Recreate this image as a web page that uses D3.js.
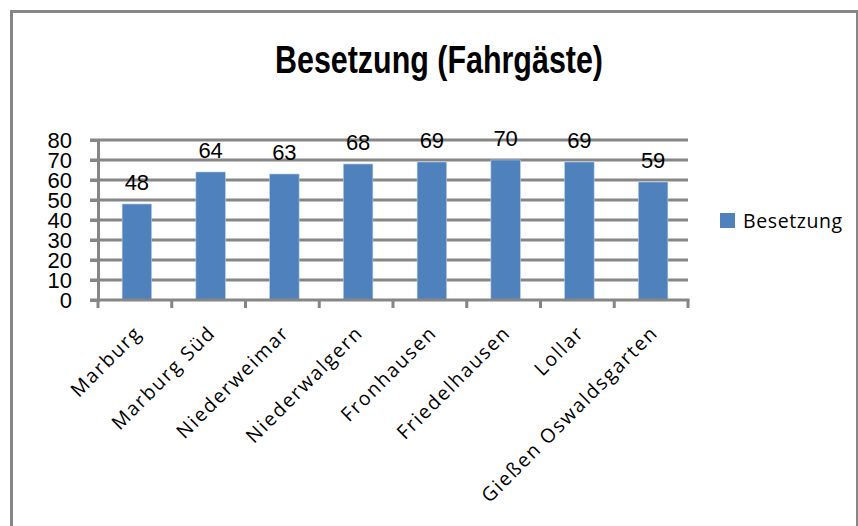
<!DOCTYPE html>
<html>
<head>
<meta charset="utf-8">
<script src="https://cdn.jsdelivr.net/npm/d3@7"></script>
<style>
  body { margin: 0; background: #fff; }
  svg { display: block; }
</style>
</head>
<body>
<script>
var categories = ["Marburg", "Marburg Süd", "Niederweimar", "Niederwalgern", "Fronhausen", "Friedelhausen", "Lollar", "Gießen Oswaldsgarten"];
var besetzung = [48, 64, 63, 68, 69, 70, 69, 59];
var yTicks = [0, 10, 20, 30, 40, 50, 60, 70, 80];
var seriesName = "Besetzung";
var chartTitle = "Besetzung (Fahrgäste)";

var svg = d3.select("body").append("svg").attr("width", 858).attr("height", 526);

// outer frame
svg.append("rect")
    .attr("x", 11.5).attr("y", 11.5)
    .attr("width", 846).attr("height", 530)
    .attr("fill", "#fff")
    .attr("stroke", "#868686")
    .attr("stroke-width", 3);

svg.append("text")
    .attr("x", 439).attr("y", 73)
    .attr("text-anchor", "middle")
    .attr("font-family", "'Liberation Sans', Arial, sans-serif")
    .attr("font-weight", "bold")
    .attr("font-size", 38)
    .attr("textLength", 328)
    .attr("lengthAdjust", "spacingAndGlyphs")
    .attr("fill", "#000")
    .text(chartTitle);

var x = d3.scaleBand().domain(categories).range([98, 688]).paddingInner(0.6).paddingOuter(0.3);
var y = d3.scaleLinear().domain([0, 80]).range([300, 140]);

// gridlines
svg.append("g").selectAll("line")
    .data(yTicks.filter(function (d) { return d > 0; }))
    .enter()
    .append("line")
    .attr("x1", 90).attr("x2", 688)
    .attr("y1", function (d) { return y(d); })
    .attr("y2", function (d) { return y(d); })
    .attr("stroke", "#868686")
    .attr("stroke-width", 3);

// y axis
var yAxis = svg.append("g")
    .attr("transform", "translate(98,0)")
    .call(d3.axisLeft(y).tickValues(yTicks).tickSize(8).tickPadding(18));
yAxis.select(".domain").attr("stroke", "#868686").attr("stroke-width", 3);
yAxis.selectAll(".tick line").attr("stroke", "#868686").attr("stroke-width", 3);
yAxis.selectAll(".tick text")
    .attr("font-family", "'Liberation Sans', Arial, sans-serif")
    .attr("font-size", 22)
    .attr("fill", "#000");

// bars
svg.append("g").selectAll("rect")
    .data(besetzung)
    .enter()
    .append("rect")
    .attr("x", function (d, i) { return x(categories[i]) + 2; })
    .attr("y", function (d) { return y(d); })
    .attr("width", x.bandwidth())
    .attr("height", function (d) { return y(0) - y(d); })
    .attr("fill", "#4F81BD")
    .attr("stroke", "#B9CDE5")
    .attr("stroke-width", 0.6);

// data labels
svg.append("g").selectAll("text")
    .data(besetzung)
    .enter()
    .append("text")
    .attr("x", function (d, i) { return x(categories[i]) + 2 + x.bandwidth() / 2; })
    .attr("y", function (d) { return y(d) - 14; })
    .attr("text-anchor", "middle")
    .attr("font-family", "'Liberation Sans', Arial, sans-serif")
    .attr("font-size", 22)
    .attr("fill", "#000")
    .text(function (d) { return d; });

// x axis line and boundary ticks
var half = x.step() * x.paddingInner() / 2;
var bounds = categories.map(function (c) { return x(c) - half; });
bounds.push(x(categories[categories.length - 1]) + x.bandwidth() + half);
svg.append("line")
    .attr("x1", 90).attr("x2", 689.5)
    .attr("y1", y(0)).attr("y2", y(0))
    .attr("stroke", "#868686").attr("stroke-width", 3);
svg.append("g").selectAll("line")
    .data(bounds)
    .enter()
    .append("line")
    .attr("x1", function (d) { return d; }).attr("x2", function (d) { return d; })
    .attr("y1", y(0)).attr("y2", y(0) + 8)
    .attr("stroke", "#868686").attr("stroke-width", 3);

// category labels
svg.append("g").selectAll("text")
    .data(categories)
    .enter()
    .append("text")
    .attr("transform", function (d) {
        return "translate(" + (x(d) + x.bandwidth() / 2 + 8) + "," + (y(0) + 34) + ") rotate(-45)";
    })
    .attr("text-anchor", "end")
    .attr("font-family", "'Open Sans', sans-serif")
    .attr("font-size", 19.5)
    .attr("letter-spacing", 1.7)
    .attr("fill", "#000")
    .text(function (d) { return d; });

// legend
var legend = svg.append("g").attr("transform", "translate(720,213)");
legend.append("rect").attr("width", 15).attr("height", 15).attr("fill", "#4F81BD");
legend.append("text")
    .attr("x", 23).attr("y", 15)
    .attr("font-family", "'Open Sans', sans-serif")
    .attr("font-size", 19.5)
    .attr("letter-spacing", 0.6)
    .attr("fill", "#000")
    .text(seriesName);
</script>
</body>
</html>
